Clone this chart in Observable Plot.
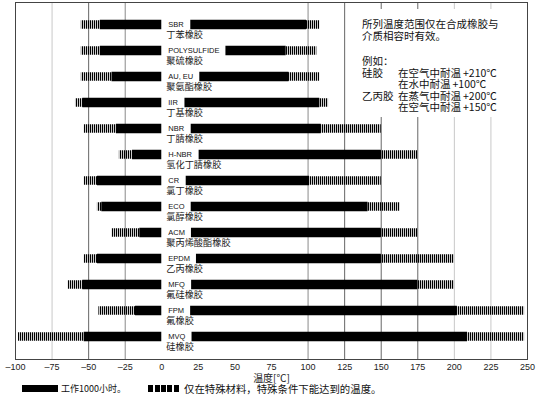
<!DOCTYPE html>
<html><head><meta charset="utf-8">
<script src="https://cdn.jsdelivr.net/npm/d3@7"></script>
<script src="https://cdn.jsdelivr.net/npm/@observablehq/plot@0.6"></script>
<style>
body{margin:0;background:#fff;font-family:"Liberation Sans",Arial,sans-serif;}
#wrap{position:relative;width:554px;height:384px;}
#note{position:absolute;left:350px;top:9px;width:174px;height:108px;background:#fff;
  font-family:"Noto Sans CJK SC",sans-serif;font-size:10.5px;line-height:11.5px;color:#111;
  box-sizing:border-box;padding:9px 0 0 12px;white-space:nowrap;}
#note .c1{display:inline-block;width:36px;}
#note .v{margin-left:2px;}
#note .gap{height:14px;}
#legend{position:relative;width:554px;height:14px;font-family:"Noto Sans CJK SC",sans-serif;color:#111;}
#legend span{position:absolute;top:0;line-height:11px;white-space:nowrap;}
#legend .sw1{left:22px;top:1px;width:36px;height:7px;background:#000;}
#legend .sw2{left:148px;top:1px;width:32px;height:7px;background:repeating-linear-gradient(90deg,#000 0 5px,#fff 5px 6.5px);}
#legend .t1{left:61px;font-size:9px;top:-1px;}
#legend .t2{left:184px;font-size:10.4px;top:-1px;}
</style></head>
<body>
<svg width="0" height="0" style="position:absolute"><defs>
<pattern id="hatch" patternUnits="userSpaceOnUse" x="0" y="0" width="2" height="40">
<rect x="0" y="0" width="1.2" height="40" fill="#000"/></pattern>
</defs></svg>
<div id="wrap"><div id="chart"></div>
<div id="note">
<div>所列温度范围仅在合成橡胶与</div>
<div>介质相容时有效。</div>
<div class="gap"></div>
<div>例如：</div>
<div><span class="c1">硅胶</span>在空气中耐温<span class="v">+210℃</span></div>
<div><span class="c1"></span>在水中耐温<span class="v">+100℃</span></div>
<div><span class="c1">乙丙胶</span>在蒸气中耐温<span class="v">+200℃</span></div>
<div><span class="c1"></span>在空气中耐温<span class="v">+150℃</span></div>
</div>
</div>
<div id="legend"><span class="sw1"></span><span class="t1">工作1000小时。</span><span class="sw2"></span><span class="t2">仅在特殊材料，特殊条件下能达到的温度。</span></div>
<script>
const names = ["SBR","POLYSULFIDE","AU, EU","IIR","NBR","H-NBR","CR","ECO","ACM","EPDM","MFQ","FPM","MVQ"];
const namesZh = ["丁苯橡胶","聚硫橡胶","聚氨酯橡胶","丁基橡胶","丁腈橡胶","氢化丁腈橡胶","氯丁橡胶","氯醇橡胶","聚丙烯酸酯橡胶","乙丙橡胶","氟硅橡胶","氟橡胶","硅橡胶"];
const normalLow  = [-42, -42, -34, -54, -31, -20, -44, -41, -15, -44, -54, -18, -53];
const normalHigh = [ 99,  85,  87, 108, 109, 150, 101, 141, 150, 150, 175, 202, 209];
const specialLow  = [-55, -55, -55, -59, -53, -29, -53, -44, -34, -53, -64, -43, -98];
const specialHigh = [108, 106, 108, 114, 150, 175, 150, 163, 175, 200, 200, 248, 248];
const xTicks = [-100,-75,-50,-25,0,25,50,75,100,125,150,175,200,225,250];
const darkGrid = [-50,125,150,175];
const midGrid = [-25,100];
const lightGrid = [-75,200,225];
const labelAt = 0;

const rows = names.map((n,i)=>({name:n, zh:namesZh[i], lo:normalLow[i], hi:normalHigh[i], slo:specialLow[i], shi:specialHigh[i]}));

const plot = Plot.plot({
  width:554, height:384, marginLeft:15, marginRight:27, marginTop:2, marginBottom:25,
  style:{fontFamily:"'Liberation Sans', Arial, sans-serif", fontSize:"9px", color:"#222", background:"#fff", overflow:"visible"},
  x:{domain:[-100,250], ticks:xTicks, tickSize:0, tickPadding:4, tickFormat:d=>d<0?"–"+(-d):String(d), label:null},
  y:{type:"point", domain:names, insetTop:22, insetBottom:23, padding:0, axis:null},
  marks:[
    Plot.ruleX(lightGrid,{stroke:"#c8c8c8"}),
    Plot.ruleX(midGrid,{stroke:"#8a8a8a"}),
    Plot.ruleX(darkGrid,{stroke:"#666"}),
    Plot.ruleY(rows,{x1:"slo", x2:"shi", y:"name", stroke:"url(#hatch)", strokeWidth:8.5}),
    Plot.ruleY(rows,{x1:"lo", x2:"hi", y:"name", stroke:"#000", strokeWidth:9.5}),
    Plot.text(rows,{x:()=>labelAt, y:"name", text:"name", textAnchor:"start", dx:6.5, fontSize:7.5, fill:"#111"}),
    Plot.text(rows,{x:()=>labelAt, y:"name", text:"zh", textAnchor:"start", dx:4.5, dy:11, fontSize:9.2, fill:"#222", fontFamily:"'Noto Sans CJK SC', sans-serif"}),
    Plot.text(["温度[℃]"],{frameAnchor:"bottom", lineAnchor:"middle", dy:19.5, fontSize:10, fill:"#222", fontFamily:"'Noto Sans CJK SC', sans-serif"}),
    Plot.frame({stroke:"#444"})
  ]
});
document.getElementById("chart").appendChild(plot);

// white label boxes behind the English names (gap in the black bars)
const ns = "http://www.w3.org/2000/svg";
const g = plot.querySelectorAll('g[aria-label="text"]')[0];
if (g) {
  const xs = plot.scale("x"), ys = plot.scale("y");
  const sr = plot.getBoundingClientRect();
  const bg = document.createElementNS(ns,"g");
  g.parentNode.insertBefore(bg, g);
  g.querySelectorAll("text").forEach((t,i)=>{
    const r = t.getBoundingClientRect();
    const x0 = xs.apply(labelAt);
    const x1 = r.right - sr.left + 6;
    const yc = ys.apply(names[i]);
    const rect = document.createElementNS(ns,"rect");
    rect.setAttribute("x", x0); rect.setAttribute("width", Math.max(0,x1-x0));
    rect.setAttribute("y", yc-6); rect.setAttribute("height", 12);
    rect.setAttribute("fill","#fff");
    bg.appendChild(rect);
  });
}
</script>
</body></html>
